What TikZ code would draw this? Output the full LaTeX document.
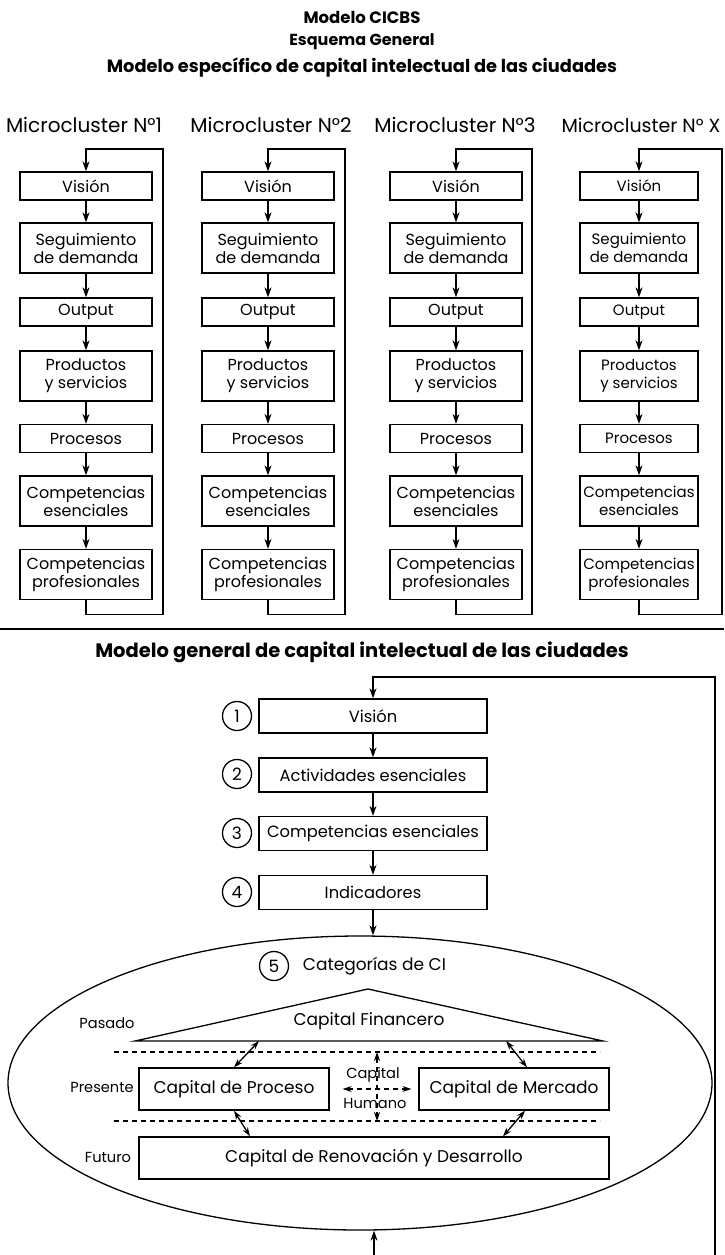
\documentclass[tikz,border=0pt]{standalone}
\usepackage{fontspec}
\setmainfont{Poppins}
\usetikzlibrary{arrows.meta,shapes.geometric,calc}

\tikzset{
  mbox/.style={draw,align=center,inner sep=0pt,minimum width=132pt,minimum height=28pt,font=\fontsize{16}{18}\selectfont},
  mboxtwo/.style={mbox,minimum height=50pt},
  mnarrow/.style={minimum width=118pt,font=\fontsize{15}{18}\selectfont},
  mlabel/.style={font=\fontsize{20}{22}\selectfont},
  gbox/.style={draw,inner sep=0pt,minimum width=228pt,minimum height=34pt,font=\fontsize{16.3}{18}\selectfont},
  cbox/.style={draw,inner sep=0pt,minimum height=42pt,font=\fontsize{17}{19}\selectfont},
  numc/.style={draw,circle,inner sep=0pt,minimum size=29pt,font=\fontsize{17}{19}\selectfont},
  small/.style={font=\fontsize{14.6}{16}\selectfont},
  arr/.style={-{Stealth[length=10pt,width=7pt]}},
  dbl/.style={{Stealth[length=9pt,width=6pt]}-{Stealth[length=9pt,width=6pt]}},
  dline/.style={dash pattern=on 5pt off 4pt}
}

\begin{document}
\begin{tikzpicture}[x=1pt,y=-1pt,line width=1.3pt]
\useasboundingbox (0,0) rectangle (724,1255);
\node[font=\bfseries\fontsize{16.5}{18}\selectfont] (t1) at (362,17) {Modelo CICBS};
\node[font=\bfseries\fontsize{16}{18}\selectfont] (t2) at (362,42) {Esquema General};
\node[font=\bfseries\fontsize{17.8}{20}\selectfont] (t3) at (362,67) {Modelo específico de capital intelectual de las ciudades};

\node[mlabel] (m1) at (84,125) {Microcluster N°1};
\node[mlabel] (m2) at (271,125) {Microcluster N°2};
\node[mlabel] (m3) at (455,125) {Microcluster N°3};
\node[mlabel,font=\fontsize{19}{22}\selectfont] (m4) at (641,125) {Microcluster N° X};

\node[mbox] (v1) at (86,186) {Visión};
\node[mboxtwo] (s1) at (86,248) {Seguimiento\\de demanda};
\node[mbox] (o1) at (86,312) {Output};
\node[mboxtwo] (p1) at (86,376) {Productos\\y servicios};
\node[mbox] (r1) at (86,438.5) {Procesos};
\node[mboxtwo] (e1) at (86,501) {Competencias\\esenciales};
\node[mboxtwo] (f1) at (86,574.5) {Competencias\\profesionales};
\coordinate (k1) at (163,149);
\draw[arr] (v1) -- (s1);
\draw[arr] (s1) -- (o1);
\draw[arr] (o1) -- (p1);
\draw[arr] (p1) -- (r1);
\draw[arr] (r1) -- (e1);
\draw[arr] (e1) -- (f1);
\draw[arr] (f1.south) -- ++(0,14) -| (k1) -| (v1.north);

\node[mbox] (v2) at (268,186) {Visión};
\node[mboxtwo] (s2) at (268,248) {Seguimiento\\de demanda};
\node[mbox] (o2) at (268,312) {Output};
\node[mboxtwo] (p2) at (268,376) {Productos\\y servicios};
\node[mbox] (r2) at (268,438.5) {Procesos};
\node[mboxtwo] (e2) at (268,501) {Competencias\\esenciales};
\node[mboxtwo] (f2) at (268,574.5) {Competencias\\profesionales};
\coordinate (k2) at (345,149);
\draw[arr] (v2) -- (s2);
\draw[arr] (s2) -- (o2);
\draw[arr] (o2) -- (p2);
\draw[arr] (p2) -- (r2);
\draw[arr] (r2) -- (e2);
\draw[arr] (e2) -- (f2);
\draw[arr] (f2.south) -- ++(0,14) -| (k2) -| (v2.north);

\node[mbox] (v3) at (456,186) {Visión};
\node[mboxtwo] (s3) at (456,248) {Seguimiento\\de demanda};
\node[mbox] (o3) at (456,312) {Output};
\node[mboxtwo] (p3) at (456,376) {Productos\\y servicios};
\node[mbox] (r3) at (456,438.5) {Procesos};
\node[mboxtwo] (e3) at (456,501) {Competencias\\esenciales};
\node[mboxtwo] (f3) at (456,574.5) {Competencias\\profesionales};
\coordinate (k3) at (532,149);
\draw[arr] (v3) -- (s3);
\draw[arr] (s3) -- (o3);
\draw[arr] (o3) -- (p3);
\draw[arr] (p3) -- (r3);
\draw[arr] (r3) -- (e3);
\draw[arr] (e3) -- (f3);
\draw[arr] (f3.south) -- ++(0,14) -| (k3) -| (v3.north);

\node[mbox,mnarrow] (v4) at (639,186) {Visión};
\node[mboxtwo,mnarrow] (s4) at (639,248) {Seguimiento\\de demanda};
\node[mbox,mnarrow] (o4) at (639,312) {Output};
\node[mboxtwo,mnarrow] (p4) at (639,376) {Productos\\y servicios};
\node[mbox,mnarrow] (r4) at (639,438.5) {Procesos};
\node[mboxtwo,mnarrow] (e4) at (639,501) {Competencias\\esenciales};
\node[mboxtwo,mnarrow] (f4) at (639,574.5) {Competencias\\profesionales};
\coordinate (k4) at (722,149);
\draw[arr] (v4) -- (s4);
\draw[arr] (s4) -- (o4);
\draw[arr] (o4) -- (p4);
\draw[arr] (p4) -- (r4);
\draw[arr] (r4) -- (e4);
\draw[arr] (e4) -- (f4);
\draw[arr] (f4.south) -- ++(0,14) -| (k4) -| (v4.north);

\coordinate (sl) at (0,629);
\coordinate (sr) at (724,629);
\draw (sl) -- (sr);
\node[font=\bfseries\fontsize{19.5}{22}\selectfont] (t4) at (362,652) {Modelo general de capital intelectual de las ciudades};

\node[gbox] (gv) at (373,716) {Visión};
\node[gbox] (ga) at (373,775) {Actividades esenciales};
\node[gbox] (gc) at (373,833.5) {Competencias esenciales};
\node[gbox] (gi) at (373,892.5) {Indicadores};
\node[numc] (n1) at (237,716) {1};
\node[numc] (n2) at (237,774) {2};
\node[numc] (n3) at (237,833) {3};
\node[numc] (n4) at (237,892) {4};
\draw[arr] (gv) -- (ga);
\draw[arr] (ga) -- (gc);
\draw[arr] (gc) -- (gi);

\node[draw,ellipse,inner sep=0pt,minimum width=704pt,minimum height=294pt] (cat) at (360,1083) {};
\draw[arr] (gi.south) -- (gi.south |- cat.north);
\node[numc] (n5) at (274,966) {5};
\node[anchor=west,font=\fontsize{17}{19}\selectfont] (ct) at (299,966) {Categorías de CI};

\coordinate (fl) at (135,1041);
\coordinate (fa) at (368,989);
\coordinate (fr) at (603,1041);
\draw (fl) -- (fa) -- (fr) -- cycle;
\node[font=\fontsize{17}{19}\selectfont] (cfin) at (369,1021) {Capital Financero};
\node[small] (pas) at (107,1023) {Pasado};
\node[small] (pre) at (102,1087) {Presente};
\node[small] (fut) at (108,1157) {Futuro};

\coordinate (d1l) at (114,1052);
\coordinate (d1r) at (600,1052);
\coordinate (d2l) at (114,1121);
\coordinate (d2r) at (600,1121);
\draw[dline] (d1l) -- (d1r);
\draw[dline] (d2l) -- (d2r);

\node[cbox,minimum width=190pt] (proc) at (234,1089) {Capital de Proceso};
\node[cbox,minimum width=190pt] (merc) at (514,1089) {Capital de Mercado};
\node[cbox,minimum width=470pt] (ren) at (374,1158) {Capital de Renovación y Desarrollo};

\node[small] (hcap) at (373,1075) {Capital};
\node[small] (hhum) at (375,1103) {Humano};
\coordinate (hc) at (377,1089);
\draw[dbl,dline] (hc |- d1l) -- (hc |- d2l);
\draw[dbl,dline] ([xshift=13pt]proc.east) -- ([xshift=-7pt]merc.west);

\draw[dbl] ($(fl)!0.265!(fr)$) -- (proc.north);
\draw[dbl] (proc.south) -- ([xshift=-124pt]ren.north);
\draw[dbl] ($(fl)!0.793!(fr)$) -- ([xshift=13pt]merc.north);
\draw[dbl] ([xshift=11pt]merc.south) -- ([xshift=129pt]ren.north);

\coordinate (b1) at (374,1255);
\coordinate (b2) at (715,1255);
\coordinate (b3) at (715,677);
\draw[arr] (b1) -- (b1 |- cat.south);
\draw[arr] (b2) -- (b3) -| (gv.north);
\end{tikzpicture}
\end{document}
